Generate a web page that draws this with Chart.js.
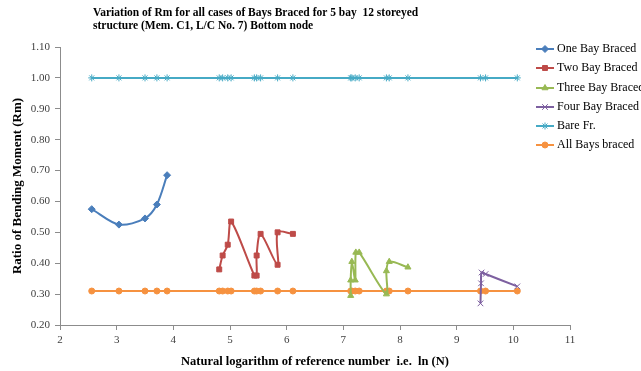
<!DOCTYPE html>
<html>
<head>
<meta charset="utf-8">
<script src="https://cdn.jsdelivr.net/npm/chart.js@4.4.1/dist/chart.umd.min.js"></script>
<style>
  html, body { margin: 0; padding: 0; background: #fff; }
  #wrap { width: 641px; height: 371px; }
</style>
</head>
<body>
<div id="wrap"><canvas id="rm" width="641" height="371"></canvas></div>
<script>
// ln(N) and Rm for each braced case
const oneX = [2.56, 3.04, 3.50, 3.71, 3.89];
const oneY = [0.575, 0.525, 0.545, 0.59, 0.685];

const twoX = [4.81, 4.87, 4.96, 5.02, 5.43, 5.47, 5.47, 5.54, 5.84, 5.84, 6.11];
const twoY = [0.38, 0.425, 0.46, 0.535, 0.36, 0.36, 0.425, 0.495, 0.395, 0.50, 0.495];

const threeX = [7.13, 7.13, 7.15, 7.21, 7.22, 7.28, 7.76, 7.76, 7.81, 8.14];
const threeY = [0.295, 0.345, 0.405, 0.345, 0.435, 0.435, 0.30, 0.375, 0.405, 0.387];

const fourX = [9.42, 9.43, 9.44, 9.51, 10.07];
const fourY = [0.27, 0.335, 0.37, 0.365, 0.325];

// reference nodes used for bare frame and all bays braced
const nodeX = [2.56, 3.04, 3.50, 3.71, 3.89, 4.81, 4.87, 4.96, 5.02, 5.43, 5.47, 5.54,
               5.84, 6.11, 7.13, 7.15, 7.21, 7.28, 7.76, 7.81, 8.14, 9.42, 9.51, 10.07];
const bareY = [1.00, 1.00, 1.00, 1.00, 1.00, 1.00, 1.00, 1.00, 1.00, 1.00, 1.00, 1.00,
               1.00, 1.00, 1.00, 1.00, 1.00, 1.00, 1.00, 1.00, 1.00, 1.00, 1.00, 1.00];
const allY = [0.31, 0.31, 0.31, 0.31, 0.31, 0.31, 0.31, 0.31, 0.31, 0.31, 0.31, 0.31,
              0.31, 0.31, 0.31, 0.31, 0.31, 0.31, 0.31, 0.31, 0.31, 0.31, 0.31, 0.31];

const seriesNames = ['One Bay Braced', 'Two Bay Braced', 'Three Bay Braced', 'Four Bay Braced', 'Bare Fr.', 'All Bays braced'];

const pts = (xs, ys) => xs.map((x, i) => ({ x: x, y: ys[i] }));

function series(label, data, color, style, radius) {
    return {
        label: label,
        data: data,
        showLine: true,
        borderColor: color,
        backgroundColor: color,
        borderWidth: 2,
        tension: 0.3,
        pointStyle: style,
        pointRadius: radius,
        pointBorderWidth: 1,
        pointBackgroundColor: color,
        pointBorderColor: color,
    };
}

const serif = '"Liberation Serif", "Times New Roman", serif';

// title and legend drawn by hand (Excel-like positions)
const decor = {
    id: 'decor',
    afterDraw(chart) {
        const ctx = chart.ctx;
        ctx.save();
        ctx.fillStyle = '#000';
        ctx.font = 'bold 11.5px ' + serif;
        ctx.textBaseline = 'alphabetic';
        ctx.textAlign = 'left';
        ctx.fillText('Variation of Rm for all cases of Bays Braced for 5 bay  12 storeyed', 93, 16);
        ctx.fillText('structure (Mem. C1, L/C No. 7) Bottom node', 93, 29);

        const rows = [49, 68, 88, 107, 126, 145];
        ctx.font = '12px ' + serif;
        ctx.textBaseline = 'middle';
        chart.data.datasets.forEach((ds, i) => {
            const y = rows[i];
            ctx.strokeStyle = ds.borderColor;
            ctx.lineWidth = 2;
            ctx.beginPath();
            ctx.moveTo(536, y);
            ctx.lineTo(554, y);
            ctx.stroke();
            ctx.fillStyle = ds.borderColor;
            ctx.lineWidth = 1;
            Chart.helpers.drawPoint(ctx, { pointStyle: ds.pointStyle, radius: ds.pointRadius, rotation: 0, borderWidth: 1 }, 545, y);
            ctx.fillStyle = '#000';
            ctx.fillText(ds.label, 557, y);
        });
        ctx.restore();
    }
};

const RM = document.getElementById('rm');
const rmChart = new Chart(RM, {
    type: 'scatter',
    data: {
        datasets: [
            series(seriesNames[0], pts(oneX, oneY), '#4A7EBB', 'rectRot', 3.5),
            series(seriesNames[1], pts(twoX, twoY), '#BE4B48', 'rect', 3.5),
            series(seriesNames[2], pts(threeX, threeY), '#98B954', 'triangle', 3.5),
            series(seriesNames[3], pts(fourX, fourY), '#7D60A0', 'crossRot', 4),
            series(seriesNames[4], pts(nodeX, bareY), '#46AAC5', 'star', 3.5),
            series(seriesNames[5], pts(nodeX, allY), '#F69240', 'circle', 3),
        ]
    },
    options: {
        responsive: false,
        animation: false,
        layout: {
            padding: { left: 0, top: 47, right: 71, bottom: 0 }
        },
        plugins: {
            legend: { display: false },
            tooltip: { enabled: false },
        },
        scales: {
            x: {
                type: 'linear',
                min: 2,
                max: 11,
                afterFit(scale) { scale.height = 46; },
                ticks: {
                    stepSize: 1,
                    padding: 4,
                    color: '#404040',
                    font: { family: serif, size: 11 },
                },
                grid: {
                    drawOnChartArea: false,
                    tickLength: 5,
                    color: '#8c8c8c',
                },
                border: { color: '#8c8c8c' },
                title: {
                    display: true,
                    text: 'Natural logarithm of reference number  i.e.  ln (N)',
                    color: '#000',
                    font: { family: serif, size: 12.5, weight: 'bold' },
                    padding: { top: 0, bottom: 2 },
                },
            },
            y: {
                type: 'linear',
                min: 0.2,
                max: 1.1,
                afterFit(scale) { scale.width = 60; },
                ticks: {
                    stepSize: 0.1,
                    padding: 5,
                    color: '#404040',
                    font: { family: serif, size: 11 },
                    callback: (v) => v.toFixed(2),
                },
                grid: {
                    drawOnChartArea: false,
                    tickLength: 5,
                    color: '#8c8c8c',
                },
                border: { color: '#8c8c8c' },
                title: {
                    display: true,
                    text: 'Ratio of Bending Moment (Rm)',
                    color: '#000',
                    font: { family: serif, size: 13, weight: 'bold' },
                    padding: { top: 10, bottom: 0 },
                },
            },
        },
    },
    plugins: [decor],
});
</script>
</body>
</html>
